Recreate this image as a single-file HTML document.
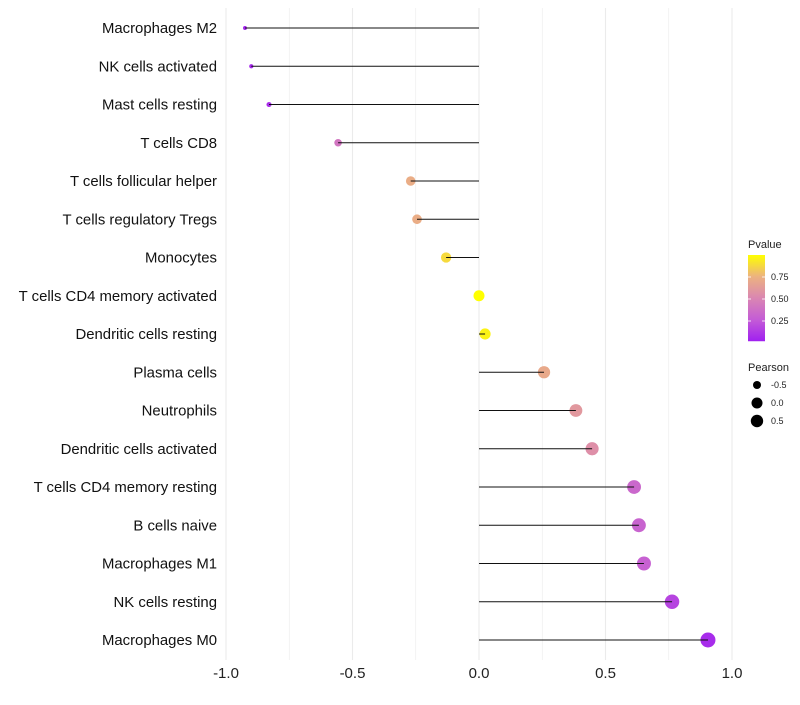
<!DOCTYPE html>
<html><head><meta charset="utf-8"><style>
body{margin:0;background:#fff;font-family:"Liberation Sans",sans-serif}
</style></head><body>
<svg id="c" width="800" height="700" xmlns="http://www.w3.org/2000/svg" font-family="Liberation Sans, sans-serif"></svg>
<script>
const categories=["Macrophages M2","NK cells activated","Mast cells resting","T cells CD8","T cells follicular helper","T cells regulatory  Tregs ","Monocytes","T cells CD4 memory activated","Dendritic cells resting","Plasma cells","Neutrophils","Dendritic cells activated","T cells CD4 memory resting","B cells naive","Macrophages M1","NK cells resting","Macrophages M0"];
const pearson=[-0.925,-0.90,-0.83,-0.557,-0.27,-0.245,-0.13,0.0,0.024,0.257,0.383,0.447,0.613,0.632,0.652,0.763,0.905];
const pvalues=[0.02,0.04,0.06,0.40,0.72,0.72,0.88,1.0,0.96,0.70,0.60,0.55,0.32,0.30,0.28,0.15,0.05];
const xTicks=[-1.0,-0.5,0.0,0.5,1.0];
const xTickLabels=["-1.0","-0.5","0.0","0.5","1.0"];
const pTicks=[0.25,0.5,0.75];
const sizeTicks=[-0.5,0.0,0.5];

const svg=document.getElementById('c');
const NS="http://www.w3.org/2000/svg";
function mk(t,a,p){const e=document.createElementNS(NS,t);for(const k in a)e.setAttribute(k,a[k]);(p||svg).appendChild(e);return e;}
const X=v=>479+v*253;
const Y=i=>28+i*38.25;
const R=v=>Math.sqrt(Math.max(1,30.3+28.6*v));
const stops=[[0,[160,32,240]],[0.25,[196,92,214]],[0.5,[218,134,178]],[0.75,[236,178,128]],[1,[255,255,0]]];
function col(p){p=Math.max(0,Math.min(1,p));for(let i=0;i<stops.length-1;i++){const a=stops[i],b=stops[i+1];if(p<=b[0]){const t=(p-a[0])/(b[0]-a[0]);return 'rgb('+a[1].map((c,j)=>Math.round(c+(b[1][j]-c)*t)).join(',')+')';}}return 'rgb(255,255,0)';}

for(let v=-1;v<=1.001;v+=0.25){
 const g=mk('line',{x1:X(v),x2:X(v),y1:8,y2:660,stroke:'#ebebeb','stroke-width':Math.abs(v*2-Math.round(v*2))<0.01?1.1:0.6});
 
 
}
xTicks.forEach((v,i)=>{
 const t=mk('text',{x:X(v),y:678,'text-anchor':'middle','font-size':15,fill:'#222'});
 t.textContent=xTickLabels[i];
 
 
});
categories.forEach((c,i)=>{
 const t=mk('text',{x:217,y:Y(i)+5,'text-anchor':'end','font-size':14.9,fill:'#111'});
 t.textContent=c;
 
 
 const d=mk('circle',{cx:X(pearson[i]),cy:Y(i),r:R(pearson[i]),fill:col(pvalues[i])});
 
 
 const l=mk('line',{x1:X(0),x2:X(pearson[i]),y1:Y(i),y2:Y(i),stroke:'#111','stroke-width':1});
 
 
});
const defs=mk('defs',{});
const lg=mk('linearGradient',{id:'pg',x1:0,y1:1,x2:0,y2:0},defs);
stops.forEach(s=>mk('stop',{offset:s[0],'stop-color':col(s[0])},lg));
const lt=mk('text',{x:748,y:248,'font-size':11,fill:'#222'});lt.textContent='Pvalue';


const PY=p=>343-p*88;
const bar=mk('rect',{x:748,y:PY(1),width:17,height:PY(0.02)-PY(1),fill:'url(#pg)'});


pTicks.forEach(p=>{
 mk('line',{x1:748,x2:751,y1:PY(p),y2:PY(p),stroke:'#fff','stroke-width':0.8});
 mk('line',{x1:762,x2:765,y1:PY(p),y2:PY(p),stroke:'#fff','stroke-width':0.8});
 const t=mk('text',{x:771,y:PY(p)+3,'font-size':9,fill:'#222'});t.textContent=p.toFixed(2);
 
 
});
const st=mk('text',{x:748,y:371,'font-size':11,fill:'#222'});st.textContent='Pearson';


sizeTicks.forEach((v,i)=>{
 const y=385+i*18;
 const c=mk('circle',{cx:757,cy:y,r:Math.min(6.2,R(v)),fill:'#000'});
 
 
 const t=mk('text',{x:771,y:y+3,'font-size':9,fill:'#222'});t.textContent=v.toFixed(1);
 
 
});
</script>
</body></html>
